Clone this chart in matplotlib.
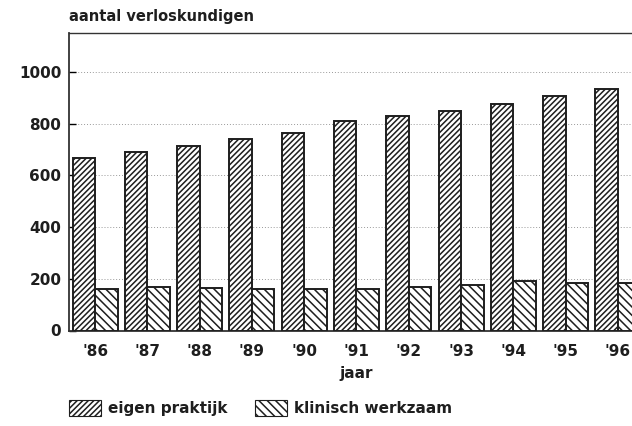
import numpy as np
import matplotlib
matplotlib.use('Agg')
import matplotlib.pyplot as plt
from matplotlib.patches import Patch

# data
jaren = ["'86", "'87", "'88", "'89", "'90", "'91", "'92", "'93", "'94", "'95", "'96"]
eigen_praktijk = [668, 690, 713, 740, 762, 810, 830, 849, 876, 905, 934]
klinisch_werkzaam = [160, 168, 165, 161, 160, 160, 170, 177, 190, 184, 182]

plt.rcParams['font.family'] = ['DejaVu Sans']
plt.rcParams['font.weight'] = 'bold'
plt.rcParams['hatch.linewidth'] = 1.1

INK = '#1e1e1e'

fig = plt.figure(figsize=(6.32, 4.26), dpi=100)
W, H = 632, 426
# axes run off the right edge, like the scan
ax = fig.add_axes([69 / W, 1 - 330.5 / H, (644 - 69) / W, (330.5 - 33) / H])

x = np.arange(len(jaren))
bw = 0.43
ax.bar(x - bw / 2, eigen_praktijk, bw, facecolor='white', edgecolor=INK,
       hatch='//////', linewidth=1.4, zorder=3)
ax.bar(x + bw / 2, klinisch_werkzaam, bw, facecolor='white', edgecolor=INK,
       hatch='\\\\\\\\', linewidth=1.4, zorder=3)

ax.set_xlim(-0.5, len(jaren) - 0.5)
ax.set_ylim(0, 1150)
ax.set_yticks([0, 200, 400, 600, 800, 1000])
ax.set_xticks(x)
ax.set_xticklabels(jaren)
ax.yaxis.grid(True, linestyle=(0, (1, 2)), color='#999999', linewidth=0.7, zorder=0)
ax.tick_params(axis='y', direction='in', length=5, width=1, labelsize=11, pad=5.5)
ax.tick_params(axis='x', length=0, labelsize=11, pad=10)
for lab in ax.get_xticklabels() + ax.get_yticklabels():
    lab.set_fontweight('bold')
    lab.set_color(INK)

ax.spines['right'].set_visible(False)
for s in ['left', 'bottom', 'top']:
    ax.spines[s].set_color('#333333')
    ax.spines[s].set_linewidth(1.3)
ax.spines['top'].set_linewidth(1.0)

ax.set_xlabel('jaar', fontsize=11, fontweight='bold', color=INK, labelpad=5)
fig.text(69 / W, 1 - 17 / H, 'aantal verloskundigen', fontsize=10.5, fontweight='bold',
         color=INK, va='center', ha='left')

handles = [Patch(facecolor='white', edgecolor=INK, hatch='//////', linewidth=0.8),
           Patch(facecolor='white', edgecolor=INK, hatch='\\\\\\\\', linewidth=0.8)]
leg = fig.legend(handles, ['eigen praktijk', 'klinisch werkzaam'], loc='center left',
                 bbox_to_anchor=(61 / W, 1 - 408 / H), ncol=2, frameon=False,
                 fontsize=11, handlelength=2.1, handleheight=1.2, borderpad=0,
                 handletextpad=0.45, columnspacing=1.8)
for t in leg.get_texts():
    t.set_fontweight('bold')
    t.set_color(INK)

fig.savefig('out.png', dpi=100)
